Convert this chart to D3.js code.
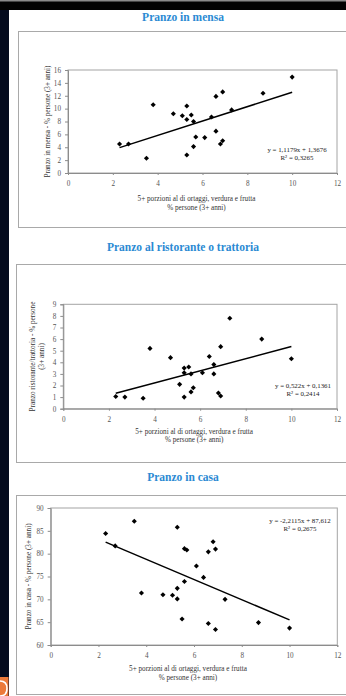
<!DOCTYPE html>
<html>
<head>
<meta charset="utf-8">
<script src="https://cdn.jsdelivr.net/npm/d3@7"></script>
<style>
  html, body { margin: 0; padding: 0; background: #fff; }
  svg { display: block; }
</style>
</head>
<body>
<svg id="page" width="346" height="696"></svg>
<script>
// Shared x axis: share of people eating 5+ portions of vegetables and fruit a day
const xTicks = [0, 2, 4, 6, 8, 10, 12];

// Lunch in the canteen
const mensaX = [2.3, 2.7, 3.5, 3.8, 4.7, 5.1, 5.3, 5.3, 5.5, 5.6, 5.3, 5.6, 5.7, 6.1, 6.4, 6.6, 6.8, 6.9, 7.3, 6.6, 6.9, 8.7, 10.0];
const mensaY = [4.5, 4.5, 2.3, 10.6, 9.2, 8.9, 10.4, 8.3, 9.0, 8.0, 2.8, 4.1, 5.6, 5.5, 8.7, 6.5, 4.5, 5.0, 9.8, 11.9, 12.6, 12.4, 14.9];
const mensaTicks = [0, 2, 4, 6, 8, 10, 12, 14, 16];
const mensaFit = { slope: 1.1179, intercept: 1.3676, r2: "0,3265", label: "y = 1,1179x + 1,3676" };

// Lunch at a restaurant or trattoria
const ristoX = [2.3, 2.7, 3.5, 3.8, 4.7, 5.1, 5.3, 5.3, 5.5, 5.3, 5.6, 5.6, 5.7, 6.1, 6.4, 6.6, 6.6, 6.8, 6.9, 6.9, 8.7, 10.0, 7.3];
const ristoY = [1.05, 1.0, 0.9, 5.2, 4.4, 2.1, 3.5, 3.1, 3.6, 1.0, 3.0, 1.45, 1.8, 3.1, 4.5, 3.8, 3.0, 1.35, 1.1, 5.35, 6.0, 4.3, 7.8];
const ristoTicks = [0, 1, 2, 3, 4, 5, 6, 7, 8, 9];
const ristoFit = { slope: 0.522, intercept: 0.1361, r2: "0,2414", label: "y = 0,522x + 0,1361" };

// Lunch at home
const casaX = [2.3, 2.7, 3.5, 5.3, 5.6, 5.7, 6.8, 6.6, 6.9, 6.1, 6.4, 5.6, 5.3, 3.8, 4.7, 5.1, 5.3, 7.3, 5.5, 6.6, 6.9, 8.7, 10.0];
const casaY = [84.4, 81.7, 87.1, 85.8, 81.1, 80.8, 82.6, 80.4, 81.0, 77.3, 74.8, 73.9, 72.4, 71.4, 71.0, 70.9, 70.1, 70.0, 65.7, 64.7, 63.4, 64.9, 63.7];
const casaTicks = [60, 65, 70, 75, 80, 85, 90];
const casaFit = { slope: -2.2115, intercept: 87.612, r2: "0,2675", label: "y = -2,2115x + 87,612" };

const xTitle1 = "5+ porzioni al di ortaggi, verdura e frutta";

const svg = d3.select("#page");
const serif = "'Liberation Serif', 'Times New Roman', 'DejaVu Serif', serif";

// Page backdrop: dark viewer edges around the white sheet
svg.append("rect").attr("width", 346).attr("height", 696).attr("fill", "#ffffff");
svg.append("rect").attr("x", 0).attr("y", 0).attr("width", 346).attr("height", 10).attr("fill", "#020202");
svg.append("rect").attr("x", 0).attr("y", 0).attr("width", 346).attr("height", 1.5).attr("fill", "#8a8a8a");
svg.append("rect").attr("x", 0).attr("y", 10).attr("width", 9).attr("height", 686).attr("fill", "#040b1e");
svg.append("rect").attr("x", 0).attr("y", 677).attr("width", 8.5).attr("height", 19).attr("fill", "#ec7a3a");
svg.append("path").attr("d", "M0,681 Q7,681 7,688.5 Q7,696 0,696")
  .attr("fill", "none").attr("stroke", "#fff").attr("stroke-width", 1.6);

const charts = [
  { title: "Pranzo in mensa", titleY: 21, frame: { x: 18, y: 31, h: 196 },
    plot: { l: 68, r: 337, t: 70, b: 173 }, xs: mensaX, ys: mensaY, yTicks: mensaTicks,
    fit: mensaFit, eq: { x: 297, y: 152 },
    yTitle: ["Pranzo in mensa - % persone (3+ anni)"], yTitleX: [48],
    xTitle: [xTitle1, "% persone (3+ anni)"], xTitleY: [201, 209.5] },
  { title: "Pranzo al ristorante o trattoria", titleY: 251, frame: { x: 16, y: 264, h: 198 },
    plot: { l: 63.3, r: 337, t: 304.3, b: 408.7 }, xs: ristoX, ys: ristoY, yTicks: ristoTicks,
    fit: ristoFit, eq: { x: 303, y: 387.5 },
    yTitle: ["Pranzo ristorante/trattoria - % persone", "(3+ anni)"], yTitleX: [33, 42.5],
    xTitle: [xTitle1, "% persone (3+ anni)"], xTitleY: [433.5, 441.5] },
  { title: "Pranzo in casa", titleY: 481, frame: { x: 16, y: 495, h: 199 },
    plot: { l: 50.7, r: 337.3, t: 508, b: 645 }, xs: casaX, ys: casaY, yTicks: casaTicks,
    fit: casaFit, eq: { x: 300, y: 523 },
    yTitle: ["Pranzo in casa - % persone (3+ anni)"], yTitleX: [29.5],
    xTitle: [xTitle1, "% persone (3+ anni)"], xTitleY: [671, 680] }
];

charts.forEach(c => {
  const g = svg.append("g");
  const p = c.plot;
  const yDom = [c.yTicks[0], c.yTicks[c.yTicks.length - 1]];
  const x = d3.scaleLinear().domain([xTicks[0], xTicks[xTicks.length - 1]]).range([p.l, p.r]);
  const y = d3.scaleLinear().domain(yDom).range([p.b, p.t]);

  // chart frame and title
  g.append("rect").attr("x", c.frame.x + 0.5).attr("y", c.frame.y + 0.5)
    .attr("width", 346 - c.frame.x + 10).attr("height", c.frame.h)
    .attr("fill", "none").attr("stroke", "#a9a9a9").attr("stroke-width", 1);
  g.append("text").attr("x", 183).attr("y", c.titleY).attr("text-anchor", "middle")
    .attr("font-family", serif).attr("font-weight", "bold").attr("font-size", 11.5)
    .attr("fill", "#2b8ad3").text(c.title);

  // plot area border
  g.append("rect").attr("x", p.l).attr("y", p.t).attr("width", p.r - p.l).attr("height", p.b - p.t)
    .attr("fill", "none").attr("stroke", "#a4a4a4").attr("stroke-width", 1);

  const ay = g.append("g").attr("transform", `translate(${p.l},0)`)
    .call(d3.axisLeft(y).tickValues(c.yTicks).tickSize(3).tickPadding(4).tickFormat(d3.format("d")));
  const ax = g.append("g").attr("transform", `translate(0,${p.b})`)
    .call(d3.axisBottom(x).tickValues(xTicks).tickSize(2).tickPadding(6).tickFormat(d3.format("d")));
  [ay, ax].forEach(a => {
    a.select(".domain").attr("stroke", "#8c8c8c");
    a.selectAll(".tick line").attr("stroke", "#8c8c8c");
    a.selectAll("text").attr("font-family", serif).attr("font-size", 7.2).attr("fill", "#555");
  });

  // trend line from the stated regression
  const [x0, x1] = d3.extent(c.xs);
  const f = v => c.fit.slope * v + c.fit.intercept;
  g.append("line").attr("x1", x(x0)).attr("y1", y(f(x0))).attr("x2", x(x1)).attr("y2", y(f(x1)))
    .attr("stroke", "#000").attr("stroke-width", 1.5);

  // data points (diamonds)
  const sym = d3.symbol(d3.symbolSquare, 13)();
  g.selectAll("path.pt").data(c.xs.map((v, i) => [v, c.ys[i]])).join("path")
    .attr("class", "pt").attr("d", sym)
    .attr("transform", d => `translate(${x(d[0])},${y(d[1])}) rotate(45)`)
    .attr("fill", "#000");

  // regression equation
  g.append("text").attr("x", c.eq.x).attr("y", c.eq.y).attr("text-anchor", "middle")
    .attr("font-family", serif).attr("font-size", 6.9).attr("fill", "#222").text(c.fit.label);
  g.append("text").attr("x", c.eq.x).attr("y", c.eq.y + 8).attr("text-anchor", "middle")
    .attr("font-family", serif).attr("font-size", 6.9).attr("fill", "#222").text("R² = " + c.fit.r2);

  // axis titles
  const cy = (p.t + p.b) / 2;
  c.yTitle.forEach((t, i) => {
    g.append("text").attr("transform", `translate(${c.yTitleX[i]},${cy}) rotate(-90)`)
      .attr("text-anchor", "middle").attr("dominant-baseline", "middle")
      .attr("font-family", serif).attr("font-size", 7.2).attr("fill", "#333").text(t);
  });
  const cx = (p.l + p.r) / 2 - 6;
  c.xTitle.forEach((t, i) => {
    g.append("text").attr("x", cx).attr("y", c.xTitleY[i]).attr("text-anchor", "middle")
      .attr("font-family", serif).attr("font-size", 7.2).attr("fill", "#333").text(t);
  });
});
</script>
</body>
</html>
